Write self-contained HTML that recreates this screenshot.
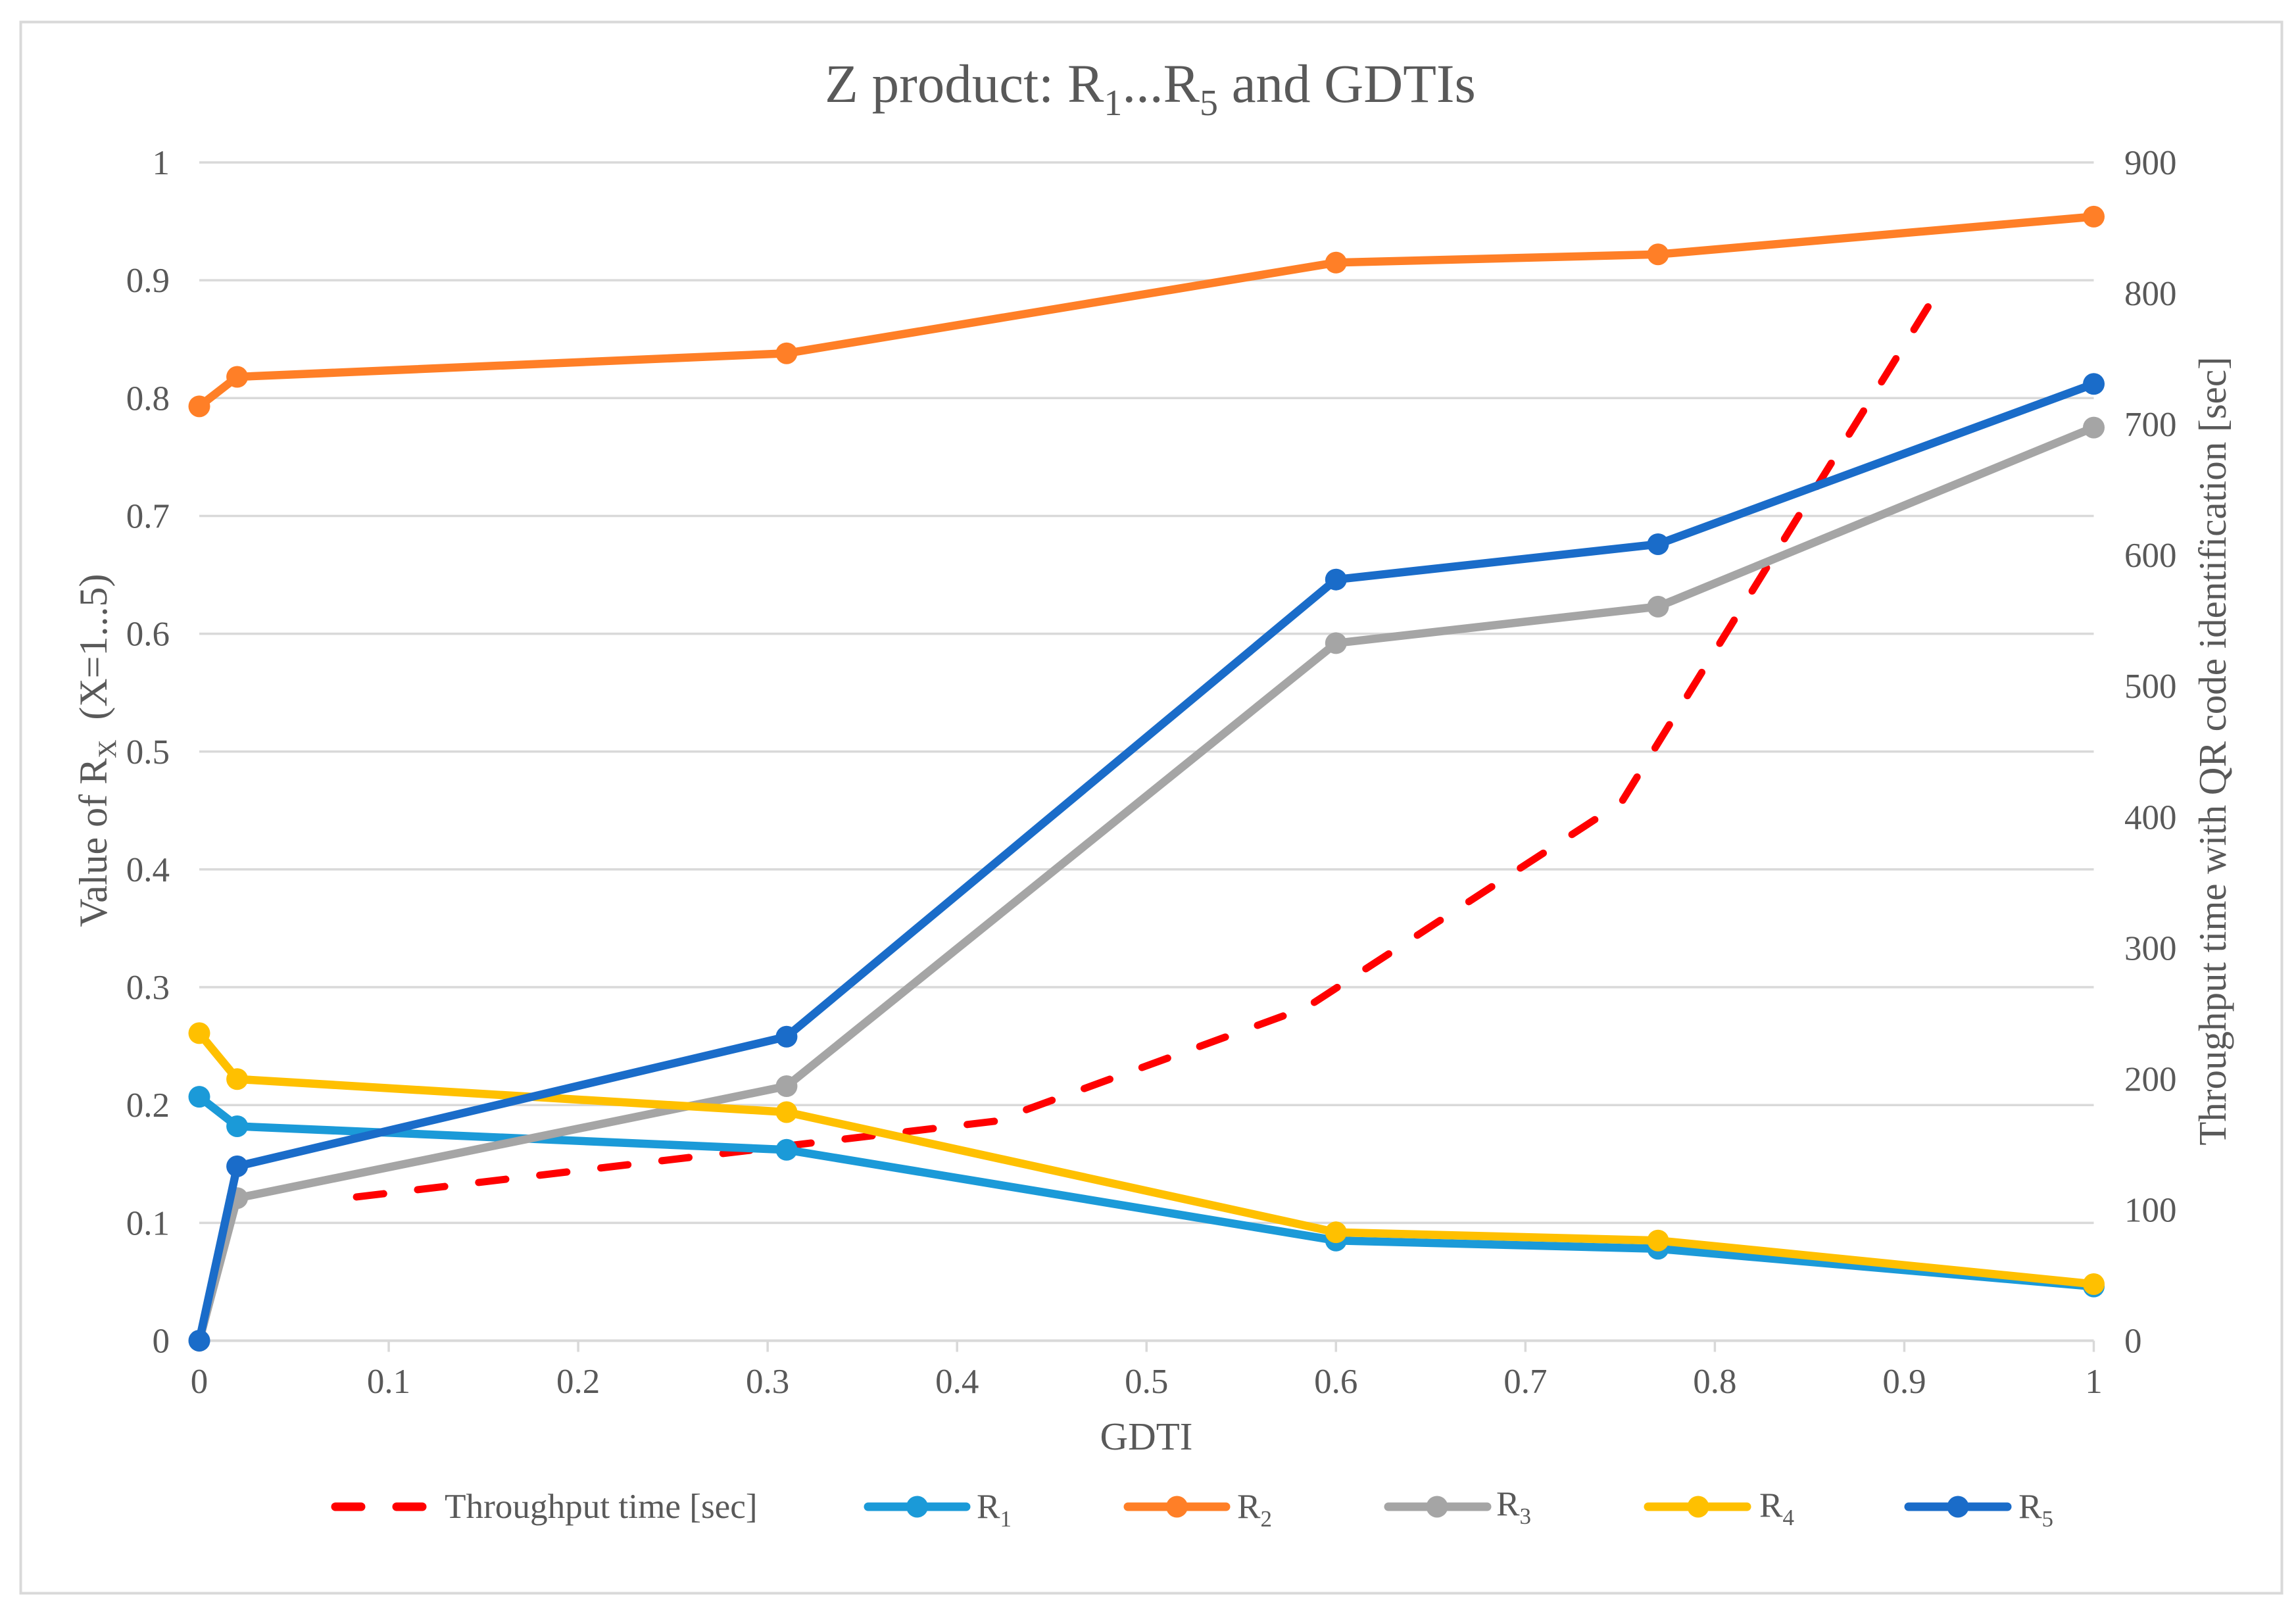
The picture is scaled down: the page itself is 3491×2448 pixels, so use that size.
<!DOCTYPE html>
<html>
<head>
<meta charset="utf-8">
<title>Z product: R1...R5 and GDTIs</title>
<style>
html,body{margin:0;padding:0;background:#fff;}
svg{display:block;}
text{font-family:"Liberation Serif",serif;fill:#595959;}
</style>
</head>
<body>
<svg id="chart" xmlns="http://www.w3.org/2000/svg" width="3491" height="2448" viewBox="0 0 3491 2448">
<rect x="31.5" y="33.5" width="3438" height="2389" fill="#fff" stroke="#d9d9d9" stroke-width="4"/>
<text x="1749" y="155" font-size="83" text-anchor="middle">Z product: R<tspan font-size="56" dy="20">1</tspan><tspan dy="-20">...R</tspan><tspan font-size="56" dy="20">5</tspan><tspan dy="-20"> and GDTIs</tspan></text>
<g id="grid"></g>
<g id="ticks"></g>
<g id="labels"></g>
<g id="series"></g>
<text x="1743" y="2204" font-size="59" text-anchor="middle">GDTI</text>
<text transform="translate(162,1141) rotate(-90)" font-size="60" text-anchor="middle">Value of R<tspan font-size="39" dy="14">X</tspan><tspan dy="-14" xml:space="preserve">  (X=1...5)</tspan></text>
<text transform="translate(3384,1142) rotate(-90)" font-size="59" text-anchor="middle">Throughput time with QR code identification [sec]</text>
<g>
  <g>
    <line x1="510" y1="2291" x2="648" y2="2291" stroke="#ff0000" stroke-width="13" stroke-linecap="round" stroke-dasharray="39 54"/>
    <text x="676" y="2308" font-size="53.2">Throughput time [sec]</text>
  </g>
  <g>
    <line x1="1320" y1="2291" x2="1469" y2="2291" stroke="#1b9ad8" stroke-width="13" stroke-linecap="round"/>
    <circle cx="1394.5" cy="2291" r="16.5" fill="#1b9ad8"/>
    <text x="1485" y="2308" font-size="53.2">R<tspan font-size="35" dy="13">1</tspan></text>
  </g>
  <g>
    <line x1="1715" y1="2291" x2="1864" y2="2291" stroke="#ff7f27" stroke-width="13" stroke-linecap="round"/>
    <circle cx="1789.5" cy="2291" r="16.5" fill="#ff7f27"/>
    <text x="1881" y="2308" font-size="53.2">R<tspan font-size="35" dy="13">2</tspan></text>
  </g>
  <g>
    <line x1="2111" y1="2291" x2="2261" y2="2291" stroke="#a5a5a5" stroke-width="13" stroke-linecap="round"/>
    <circle cx="2185" cy="2291" r="16.5" fill="#a5a5a5"/>
    <text x="2275" y="2304" font-size="53.2">R<tspan font-size="35" dy="13">3</tspan></text>
  </g>
  <g>
    <line x1="2506" y1="2291" x2="2656" y2="2291" stroke="#ffc000" stroke-width="13" stroke-linecap="round"/>
    <circle cx="2582" cy="2291" r="16.5" fill="#ffc000"/>
    <text x="2675" y="2306" font-size="53.2">R<tspan font-size="35" dy="13">4</tspan></text>
  </g>
  <g>
    <line x1="2902" y1="2291" x2="3052" y2="2291" stroke="#1a6cc9" stroke-width="13" stroke-linecap="round"/>
    <circle cx="2977" cy="2291" r="16.5" fill="#1a6cc9"/>
    <text x="3069" y="2308" font-size="53.2">R<tspan font-size="35" dy="13">5</tspan></text>
  </g>
</g>
</svg>
<script>
const gdti = [0, 0.02, 0.31, 0.6, 0.77, 1];
const r1 = [0.207, 0.182, 0.162, 0.085, 0.078, 0.046];
const r2 = [0.793, 0.818, 0.838, 0.915, 0.922, 0.954];
const r3 = [0, 0.121, 0.216, 0.592, 0.623, 0.775];
const r4 = [0.261, 0.222, 0.194, 0.092, 0.085, 0.048];
const r5 = [0, 0.148, 0.258, 0.646, 0.676, 0.812];
const throughputX = [0.083, 0.4198, 0.5844, 0.7507, 0.9125];
const throughputSec = [109.8, 167.6, 254.5, 411.3, 789.7];
const xTickLabels = ['0', '0.1', '0.2', '0.3', '0.4', '0.5', '0.6', '0.7', '0.8', '0.9', '1'];
const leftTickLabels = ['0', '0.1', '0.2', '0.3', '0.4', '0.5', '0.6', '0.7', '0.8', '0.9', '1'];
const rightTickLabels = ['0', '100', '200', '300', '400', '500', '600', '700', '800', '900'];

const NS = 'http://www.w3.org/2000/svg';
const plotLeft = 303, plotRight = 3183.5, plotTop = 247, plotBottom = 2038.5;
function xScale(v) { return plotLeft + (v / 1) * (plotRight - plotLeft); }
function yLeft(v) { return plotBottom - (v / 1) * (plotBottom - plotTop); }
function yRight(v) { return plotBottom - (v / 900) * (plotBottom - plotTop); }
function make(tag) { return document.createElementNS(NS, tag); }

const gridG = document.getElementById('grid');
const ticksG = document.getElementById('ticks');
const labelsG = document.getElementById('labels');
const seriesG = document.getElementById('series');

leftTickLabels.forEach(function (t) {
  const v = parseFloat(t);
  const l = make('line');
  
  
  l.setAttribute('x1', plotLeft);
  l.setAttribute('x2', plotRight);
  l.setAttribute('y1', yLeft(v));
  l.setAttribute('y2', yLeft(v));
  l.setAttribute('stroke', '#d9d9d9');
  l.setAttribute('stroke-width', v === 0 ? 4 : 3.5);
  gridG.appendChild(l);
  const tx = make('text');
  
  
  tx.setAttribute('x', 258);
  tx.setAttribute('y', yLeft(v) + 18);
  tx.setAttribute('font-size', 53);
  tx.setAttribute('text-anchor', 'end');
  tx.textContent = t;
  labelsG.appendChild(tx);
});

rightTickLabels.forEach(function (t) {
  const v = parseFloat(t);
  const tx = make('text');
  
  
  tx.setAttribute('x', 3230);
  tx.setAttribute('y', yRight(v) + 18);
  tx.setAttribute('font-size', 53);
  tx.textContent = t;
  labelsG.appendChild(tx);
});

xTickLabels.forEach(function (t) {
  const v = parseFloat(t);
  const l = make('line');
  
  
  l.setAttribute('x1', xScale(v));
  l.setAttribute('x2', xScale(v));
  l.setAttribute('y1', plotBottom);
  l.setAttribute('y2', plotBottom + 17);
  l.setAttribute('stroke', '#d9d9d9');
  l.setAttribute('stroke-width', 3.5);
  ticksG.appendChild(l);
  const tx = make('text');
  
  
  tx.setAttribute('x', xScale(v));
  tx.setAttribute('y', 2118);
  tx.setAttribute('font-size', 53);
  tx.setAttribute('text-anchor', 'middle');
  tx.textContent = t;
  labelsG.appendChild(tx);
});

const tp = make('polyline');


tp.setAttribute('points', throughputX.map(function (x, i) { return xScale(x) + ',' + yRight(throughputSec[i]); }).join(' '));
tp.setAttribute('fill', 'none');
tp.setAttribute('stroke', '#ff0000');
tp.setAttribute('stroke-width', 11);
tp.setAttribute('stroke-linecap', 'round');
tp.setAttribute('stroke-linejoin', 'round');
tp.setAttribute('stroke-dasharray', '41.5 52');
seriesG.appendChild(tp);

function drawSeries(values, color, name) {
  const g = make('g');
  
  
  const pl = make('polyline');
  
  
  pl.setAttribute('points', gdti.map(function (x, i) { return xScale(x) + ',' + yLeft(values[i]); }).join(' '));
  pl.setAttribute('fill', 'none');
  pl.setAttribute('stroke', color);
  pl.setAttribute('stroke-width', 12.5);
  pl.setAttribute('stroke-linejoin', 'round');
  pl.setAttribute('stroke-linecap', 'round');
  g.appendChild(pl);
  values.forEach(function (v, i) {
    const c = make('circle');
    
    
    c.setAttribute('cx', xScale(gdti[i]));
    c.setAttribute('cy', yLeft(v));
    c.setAttribute('r', 16.5);
    c.setAttribute('fill', color);
    g.appendChild(c);
  });
  seriesG.appendChild(g);
}
drawSeries(r1, '#1b9ad8', 'r1-series');
drawSeries(r2, '#ff7f27', 'r2-series');
drawSeries(r3, '#a5a5a5', 'r3-series');
drawSeries(r4, '#ffc000', 'r4-series');
drawSeries(r5, '#1a6cc9', 'r5-series');
</script>
</body>
</html>
